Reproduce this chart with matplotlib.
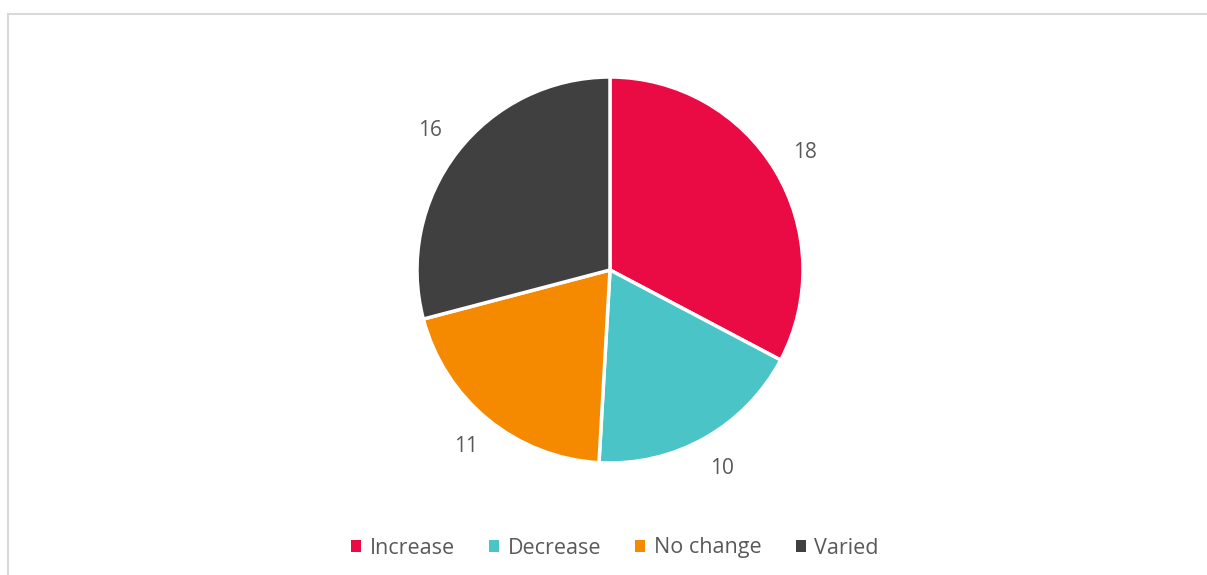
import matplotlib.pyplot as plt
from matplotlib.patches import Rectangle, Patch

labels = ['Increase', 'Decrease', 'No change', 'Varied']
values = [18, 10, 11, 16]
colors = ['#EA0A44', '#4BC4C8', '#F58A00', '#404040']
text_color = '#595959'

plt.rcParams['font.family'] = ['Open Sans', 'DejaVu Sans']

W, H = 1207, 575
fig = plt.figure(figsize=(W / 100, H / 100), dpi=100)

# light grey frame around the chart area
fig.patches.append(Rectangle((8 / W, -0.05), 1.1, (H - 14) / H + 0.05,
                             transform=fig.transFigure, fill=False,
                             edgecolor='#D9D9D9', linewidth=1.5))

r_px = 193
lim = 1.3
side = 2 * r_px * lim
cx, cy = 610, H - 270
ax = fig.add_axes([(cx - side / 2) / W, (cy - side / 2) / H, side / W, side / H])

wedges, texts = ax.pie(values, colors=colors, startangle=90, counterclock=False,
                       labels=[str(v) for v in values], labeldistance=1.18,
                       wedgeprops=dict(edgecolor='white', linewidth=2.5),
                       textprops=dict(color=text_color, fontsize=15))
for t in texts:
    t.set_ha('center')
    t.set_va('center')
ax.set_xlim(-lim, lim)
ax.set_ylim(-lim, lim)
ax.set_aspect('equal')
ax.axis('off')

handles = [Patch(facecolor=c, label=l) for c, l in zip(colors, labels)]
fig.legend(handles=handles, loc='center', bbox_to_anchor=(615 / W, (H - 548) / H),
           ncol=4, frameon=False, fontsize=15.5, handlelength=0.45, handleheight=0.45,
           handletextpad=0.4, columnspacing=1.6, labelcolor=text_color)

fig.savefig('out.png', dpi=100)
